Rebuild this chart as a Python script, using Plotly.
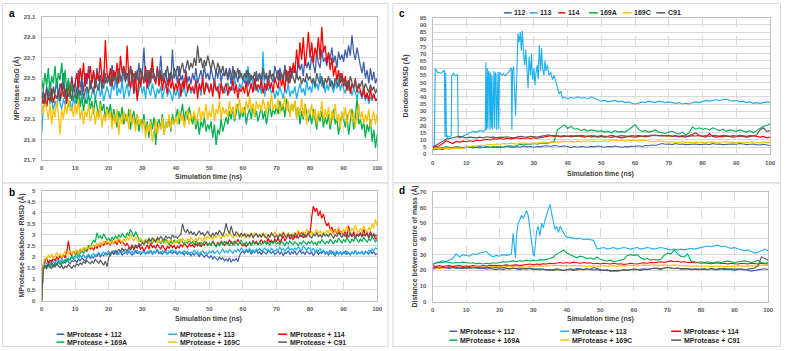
import plotly.graph_objects as go

W, H = 787, 351
def X(px): return px / W
def Y(py): return 1 - py / H

# ---------------- data ----------------
series_names = ["112", "113", "114", "169A", "169C", "C91"]
series_colors = ["#3F5FAE", "#1CB0EE", "#FF0000", "#00B050", "#FFC000", "#5A5A5A"]

time_ab = [i * 0.5 for i in range(201)]
time_cd = list(range(101))

# Panel a: MProtease RoG (Å)
rog_112 = [22.30,22.38,22.25,22.42,22.33,22.47,22.28,22.40,22.35,22.50,
22.32,22.45,22.38,22.55,22.30,22.42,22.48,22.36,22.52,22.40,
22.45,22.33,22.58,22.41,22.50,22.37,22.55,22.44,22.62,22.39,
22.48,22.56,22.42,22.60,22.47,22.53,22.38,22.58,22.45,22.50,
22.52,22.44,22.63,22.47,22.56,22.40,22.60,22.50,22.43,22.58,
22.46,22.55,22.42,22.62,22.50,22.45,22.57,22.48,22.65,22.44,
22.52,22.80,22.46,22.58,22.42,22.60,22.50,22.55,22.44,22.62,
22.48,22.72,22.50,22.45,22.58,22.43,22.55,22.47,22.78,22.50,
22.56,22.45,22.62,22.48,22.53,22.40,22.58,22.46,22.52,22.44,
22.55,22.48,22.60,22.45,22.52,22.58,22.47,22.63,22.50,22.55,
22.48,22.60,22.52,22.45,22.58,22.50,22.62,22.46,22.55,22.52,
22.60,22.48,22.56,22.44,22.62,22.50,22.54,22.46,22.58,22.52,
22.50,22.45,22.58,22.42,22.55,22.48,22.52,22.40,22.57,22.47,
22.53,22.45,22.60,22.48,22.55,22.42,22.58,22.50,22.46,22.62,
22.55,22.48,22.60,22.52,22.45,22.63,22.50,22.57,22.48,22.60,
22.55,22.62,22.50,22.68,22.58,22.64,22.52,22.70,22.60,22.66,
22.58,22.72,22.62,22.55,22.75,22.65,22.60,22.78,22.66,22.70,
22.62,22.75,22.68,22.80,22.65,22.72,22.60,22.76,22.68,22.73,
22.66,22.78,22.70,22.82,22.72,22.92,22.75,22.68,22.80,22.70,
22.62,22.55,22.66,22.50,22.58,22.45,22.60,22.48,22.56,22.45,
22.50]
rog_113 = [21.95,22.20,22.30,22.22,22.35,22.25,22.30,22.18,22.28,22.22,
22.32,22.25,22.20,22.30,22.24,22.35,22.22,22.28,22.18,22.30,
22.25,22.35,22.28,22.22,22.38,22.30,22.25,22.40,22.32,22.28,
22.35,22.42,22.30,22.38,22.45,22.32,22.40,22.28,22.36,22.42,
22.35,22.30,22.45,22.38,22.50,22.33,22.40,22.35,22.48,22.30,
22.38,22.45,22.32,22.40,22.52,22.35,22.42,22.30,22.38,22.45,
22.35,22.42,22.30,22.48,22.38,22.33,22.45,22.36,22.30,22.40,
22.35,22.42,22.30,22.38,22.45,22.32,22.40,22.35,22.28,22.38,
22.33,22.40,22.30,22.45,22.36,22.42,22.32,22.38,22.45,22.35,
22.40,22.35,22.50,22.38,22.42,22.33,22.48,22.36,22.40,22.45,
22.38,22.42,22.35,22.48,22.40,22.36,22.45,22.38,22.42,22.35,
22.40,22.46,22.35,22.42,22.38,22.50,22.40,22.36,22.45,22.40,
22.48,22.55,22.42,22.62,22.45,22.40,22.50,22.38,22.44,22.36,
22.42,22.35,22.76,22.32,22.45,22.38,22.42,22.35,22.40,22.30,
22.38,22.33,22.42,22.36,22.30,22.40,22.35,22.45,22.32,22.38,
22.35,22.42,22.30,22.38,22.45,22.36,22.40,22.33,22.48,22.38,
22.42,22.36,22.50,22.40,22.45,22.38,22.55,22.42,22.48,22.36,
22.44,22.38,22.50,22.42,22.36,22.46,22.40,22.52,22.38,22.45,
22.40,22.35,22.45,22.38,22.42,22.33,22.40,22.36,22.30,22.38,
22.35,22.30,22.38,22.28,22.35,22.25,22.32,22.28,22.34,22.30,
22.28]
rog_114 = [22.30,22.25,22.35,22.22,22.32,22.28,22.40,22.26,22.34,22.30,
22.38,22.28,22.45,22.32,22.40,22.25,22.42,22.35,22.48,22.38,
22.45,22.55,22.40,22.60,22.48,22.65,22.42,22.55,22.50,22.62,
22.45,22.58,22.40,22.55,22.48,22.70,22.50,22.45,22.87,22.55,
22.48,22.60,22.42,22.58,22.50,22.65,22.45,22.72,22.55,22.62,
22.48,22.82,22.50,22.40,22.58,22.35,22.55,22.28,22.50,22.42,
22.55,22.45,22.62,22.40,22.58,22.48,22.70,22.50,22.45,22.60,
22.42,22.55,22.38,22.50,22.45,22.35,22.52,22.40,22.48,22.37,
22.45,22.38,22.50,22.32,22.47,22.40,22.55,22.36,22.44,22.38,
22.42,22.35,22.48,22.30,22.45,22.38,22.50,22.34,22.46,22.40,
22.36,22.45,22.32,22.48,22.38,22.42,22.30,22.46,22.35,22.40,
22.45,22.33,22.42,22.38,22.48,22.35,22.44,22.30,22.40,22.37,
22.42,22.35,22.47,22.32,22.40,22.45,22.36,22.50,22.38,22.44,
22.40,22.48,22.35,22.45,22.38,22.52,22.40,22.46,22.36,22.50,
22.45,22.40,22.55,22.42,22.50,22.38,22.58,22.45,22.62,22.50,
22.65,22.55,22.78,22.60,22.85,22.68,22.90,22.62,22.75,22.95,
22.70,22.85,22.65,22.80,22.72,22.90,22.68,23.00,22.75,22.82,
22.65,22.75,22.58,22.70,22.52,22.62,22.48,22.58,22.45,22.55,
22.42,22.52,22.38,22.48,22.35,22.45,22.40,22.50,22.36,22.44,
22.38,22.32,22.42,22.30,22.36,22.28,22.40,22.30,22.35,22.28,
22.30]
rog_169A = [22.50,22.38,22.55,22.42,22.60,22.35,22.52,22.45,22.62,22.40,
22.55,22.48,22.65,22.42,22.58,22.35,22.50,22.30,22.45,22.28,
22.35,22.25,22.40,22.22,22.32,22.18,22.30,22.25,22.35,22.20,
22.28,22.15,22.32,22.22,22.12,22.28,22.18,22.25,22.10,22.22,
22.15,22.25,22.08,22.20,22.12,22.02,22.18,22.10,22.22,22.05,
22.15,22.08,22.20,22.00,22.12,22.18,22.05,22.15,21.98,22.10,
22.05,22.15,21.98,22.08,21.92,22.10,22.00,22.12,21.85,22.05,
22.10,22.00,22.15,21.95,22.08,22.02,22.12,21.98,22.15,22.05,
22.12,22.20,22.05,22.15,22.25,22.08,22.18,22.10,22.22,22.12,
22.05,22.15,22.00,22.10,21.95,22.08,22.02,22.12,21.98,22.05,
22.00,22.08,21.92,22.05,21.85,22.00,21.95,22.10,21.98,22.05,
22.12,22.05,22.18,22.10,22.22,22.08,22.15,22.25,22.10,22.18,
22.12,22.22,22.05,22.15,22.20,22.10,22.25,22.12,22.18,22.08,
22.15,22.22,22.10,22.18,22.05,22.15,22.25,22.12,22.20,22.15,
22.22,22.15,22.28,22.18,22.25,22.12,22.30,22.20,22.15,22.25,
22.18,22.28,22.12,22.22,22.05,22.18,22.10,22.25,22.15,22.08,
22.15,22.05,22.20,22.10,22.00,22.15,22.08,22.18,22.02,22.12,
22.05,22.15,22.00,22.10,22.20,22.05,22.12,21.95,22.08,22.15,
22.10,22.02,22.15,21.95,22.08,22.20,22.00,22.12,22.30,22.05,
22.10,22.00,22.08,21.92,22.05,21.98,22.10,21.88,22.00,21.82,
21.95]
rog_169C = [22.25,22.15,22.30,22.18,22.10,22.25,22.05,22.20,22.12,22.28,
22.15,21.95,22.20,22.10,22.25,22.15,22.30,22.18,22.22,22.12,
22.25,22.15,22.30,22.10,22.20,22.05,22.18,22.12,22.25,22.08,
22.15,22.22,22.05,22.18,22.10,22.25,22.02,22.15,22.08,22.20,
22.10,22.18,22.00,22.15,22.05,22.20,21.95,22.12,22.05,22.18,
22.08,22.15,22.00,22.20,22.05,22.12,21.98,22.15,22.05,22.10,
22.00,22.10,21.92,22.05,21.98,22.08,21.88,22.02,22.10,21.95,
22.05,22.00,22.12,21.95,22.08,22.02,22.15,22.00,22.10,22.05,
22.12,22.05,22.18,22.08,22.15,22.02,22.12,22.20,22.05,22.15,
22.10,22.18,22.05,22.15,22.22,22.08,22.18,22.12,22.25,22.10,
22.18,22.12,22.25,22.08,22.20,22.15,22.28,22.10,22.22,22.15,
22.20,22.12,22.28,22.15,22.22,22.10,22.25,22.18,22.30,22.15,
22.22,22.15,22.28,22.20,22.32,22.18,22.25,22.12,22.28,22.20,
22.25,22.18,22.30,22.22,22.15,22.28,22.20,22.35,22.18,22.25,
22.20,22.30,22.15,22.25,22.22,22.32,22.18,22.28,22.12,22.25,
22.18,22.28,22.10,22.22,22.15,22.30,22.12,22.25,22.05,22.20,
22.15,22.25,22.10,22.20,22.05,22.18,22.12,22.28,22.08,22.20,
22.12,22.22,22.05,22.18,22.10,22.25,22.08,22.15,22.00,22.18,
22.10,22.22,22.05,22.15,22.20,22.08,22.18,22.02,22.15,22.25,
22.10,22.18,22.05,22.15,22.08,22.20,22.02,22.12,22.18,22.05,
22.15]
rog_C91 = [22.28,22.35,22.25,22.40,22.30,22.36,22.27,22.42,22.33,22.30,
22.38,22.28,22.35,22.45,22.30,22.40,22.32,22.38,22.28,22.42,
22.35,22.30,22.40,22.33,22.45,22.30,22.38,22.42,22.35,22.48,
22.40,22.35,22.50,22.42,22.38,22.52,22.45,22.40,22.55,22.45,
22.50,22.42,22.55,22.48,22.52,22.45,22.58,22.47,22.53,22.60,
22.48,22.55,22.50,22.62,22.46,22.55,22.50,22.58,22.45,22.60,
22.52,22.48,22.58,22.50,22.55,22.45,22.60,22.52,22.48,22.56,
22.50,22.58,22.47,22.55,22.52,22.62,22.50,22.56,22.48,22.60,
22.55,22.62,22.52,22.58,22.65,22.55,22.60,22.68,22.58,22.65,
22.60,22.70,22.62,22.82,22.65,22.70,22.60,22.68,22.62,22.72,
22.65,22.58,22.68,22.62,22.55,22.65,22.60,22.55,22.62,22.52,
22.58,22.50,22.60,22.55,22.48,22.58,22.52,22.60,22.50,22.55,
22.48,22.55,22.50,22.58,22.45,22.53,22.50,22.56,22.47,22.52,
22.55,22.48,22.60,22.50,22.54,22.45,22.58,22.50,22.55,22.48,
22.52,22.58,22.48,22.55,22.50,22.60,22.47,22.53,22.45,22.56,
22.50,22.45,22.55,22.48,22.52,22.44,22.50,22.46,22.55,22.48,
22.52,22.45,22.50,22.42,22.55,22.48,22.45,22.52,22.40,22.50,
22.45,22.52,22.42,22.48,22.40,22.50,22.45,22.42,22.55,22.46,
22.50,22.42,22.48,22.40,22.52,22.45,22.40,22.48,22.38,22.45,
22.42,22.48,22.38,22.45,22.40,22.36,22.44,22.38,22.42,22.35,
22.40]

# Panel b: MProtease backbone RMSD (Å)
bb_112 = [0.00,1.55,1.62,1.58,1.70,1.65,1.75,1.60,1.72,1.68,
1.78,1.70,1.65,1.80,1.72,1.85,1.75,1.68,1.82,1.78,
1.85,1.75,1.90,1.82,1.95,1.88,1.80,1.95,2.05,1.92,
2.00,1.95,2.08,2.02,2.15,2.00,2.10,2.05,2.18,2.08,
2.15,2.05,2.20,2.12,2.25,2.10,2.18,2.22,2.08,2.15,
2.20,2.12,2.25,2.15,2.08,2.20,2.28,2.15,2.22,2.10,
2.18,2.25,2.12,2.20,2.15,2.28,2.10,2.22,2.18,2.30,
2.15,2.22,2.10,2.25,2.18,2.12,2.20,2.28,2.15,2.22,
2.18,2.10,2.25,2.15,2.20,2.08,2.22,2.12,2.18,2.05,
2.15,2.08,2.20,2.10,2.02,2.15,2.05,1.98,2.10,2.00,
1.95,2.05,1.90,2.00,1.92,1.85,1.98,1.88,1.95,1.82,
1.90,1.80,1.95,1.75,1.88,1.82,1.92,1.78,2.05,2.20,
2.25,2.15,2.30,2.20,2.28,2.12,2.25,2.18,2.32,2.15,
2.22,2.10,2.25,2.18,2.12,2.28,2.20,2.15,2.25,2.10,
2.18,2.25,2.12,2.22,2.05,2.20,2.15,2.28,2.10,2.22,
2.15,2.25,2.08,2.20,2.30,2.15,2.22,2.10,2.25,2.18,
2.12,2.22,2.05,2.18,2.25,2.10,2.20,2.15,2.28,2.12,
2.20,2.08,2.18,2.25,2.12,2.05,2.20,2.15,2.22,2.10,
2.18,2.25,2.12,2.20,2.08,2.22,2.15,2.28,2.12,2.20,
2.15,2.22,2.10,2.25,2.18,2.12,2.28,2.15,2.22,2.10,
2.15]
bb_113 = [0.00,1.60,1.75,1.68,1.80,1.72,1.85,1.78,1.70,1.82,
1.88,1.75,1.92,1.80,1.85,1.95,1.82,1.90,2.00,1.88,
1.95,2.02,1.90,2.05,1.98,2.10,1.95,2.05,2.12,2.00,
2.08,2.15,2.02,2.12,2.20,2.05,2.15,2.22,2.10,2.18,
2.25,2.12,2.20,2.28,2.15,2.22,2.10,2.25,2.18,2.30,
2.20,2.15,2.28,2.18,2.25,2.12,2.22,2.30,2.15,2.25,
2.18,2.28,2.12,2.25,2.20,2.32,2.15,2.25,2.18,2.35,
2.22,2.15,2.28,2.20,2.30,2.12,2.25,2.18,2.32,2.20,
2.28,2.15,2.25,2.20,2.12,2.28,2.18,2.25,2.10,2.22,
2.18,2.30,2.15,2.25,2.12,2.22,2.28,2.15,2.20,2.12,
2.25,2.18,2.30,2.15,2.22,2.28,2.12,2.25,2.35,2.20,
2.28,2.18,2.32,2.25,2.15,2.30,2.22,2.35,2.25,2.40,
2.30,2.22,2.35,2.28,2.38,2.25,2.32,2.20,2.35,2.28,
2.38,2.25,2.32,2.40,2.28,2.35,2.22,2.38,2.30,2.25,
2.35,2.28,2.42,2.30,2.38,2.25,2.35,2.45,2.30,2.38,
2.28,2.40,2.32,2.45,2.35,2.28,2.50,2.38,2.30,2.42,
2.35,2.28,2.40,2.22,2.32,2.25,2.38,2.20,2.30,2.15,
2.25,2.18,2.30,2.12,2.22,2.15,2.28,2.10,2.20,2.15,
2.22,2.12,2.25,2.18,2.10,2.22,2.15,2.28,2.12,2.20,
2.15,2.25,2.10,2.22,2.18,2.30,2.20,2.35,2.28,2.40,
2.35]
bb_114 = [0.00,1.65,1.80,1.95,1.72,1.85,1.78,1.92,1.82,1.98,
1.88,2.05,1.92,2.10,1.95,2.20,2.72,2.15,2.05,2.25,
2.12,2.28,2.18,2.35,2.22,2.40,2.30,2.25,2.45,2.35,
2.42,2.30,2.50,2.38,2.55,2.45,2.62,2.50,2.70,2.58,
2.65,2.52,2.75,2.60,2.68,2.55,2.80,2.62,2.70,2.58,
2.50,2.62,2.45,2.38,2.55,2.30,2.48,2.40,2.52,2.35,
2.45,2.25,2.40,2.55,2.35,2.62,2.42,2.50,2.38,2.58,
2.45,2.35,2.52,2.40,2.28,2.48,2.38,2.55,2.42,2.50,
2.35,2.48,2.40,2.55,2.45,2.62,2.50,2.42,2.58,2.48,
2.55,2.42,2.60,2.50,2.65,2.45,2.58,2.52,2.68,2.55,
2.62,2.50,2.72,2.58,2.48,2.65,2.55,2.70,2.60,2.52,
2.68,2.58,2.75,2.62,2.55,2.72,2.60,2.80,2.65,2.58,
2.50,2.62,2.45,2.58,2.68,2.52,2.75,2.60,2.70,2.55,
2.65,2.78,2.60,2.72,2.58,2.85,2.65,2.75,2.62,2.80,
2.70,2.85,2.65,2.78,2.95,2.72,2.85,3.05,2.80,2.90,
2.78,2.95,2.85,3.20,2.90,3.10,2.85,3.00,2.92,3.15,
3.05,3.80,4.30,4.05,4.20,3.85,4.10,3.75,3.95,3.60,
3.40,3.55,3.20,3.35,3.10,3.25,3.05,3.30,3.00,3.15,
2.95,3.20,2.85,3.40,3.00,2.90,3.15,2.85,3.05,2.95,
3.10,2.90,3.25,2.95,3.05,2.85,3.15,2.92,3.00,2.80,
2.90]
bb_169A = [0.00,1.40,1.55,1.45,1.60,1.50,1.65,1.55,1.70,1.62,
1.75,1.65,1.80,1.72,1.85,1.78,1.92,1.85,2.00,1.95,
2.05,2.15,2.02,2.20,2.30,2.15,2.40,2.28,2.50,2.45,
2.60,2.75,2.65,3.10,2.85,2.95,2.80,3.05,2.90,2.75,
2.85,2.70,2.90,2.78,2.95,2.82,3.00,2.88,3.05,2.92,
2.85,3.10,2.95,3.25,3.05,2.90,3.15,2.95,2.80,2.70,
2.75,2.62,2.80,2.68,2.85,2.72,2.60,2.78,2.65,2.82,
2.70,2.58,2.75,2.62,2.80,2.68,2.55,2.72,2.60,2.78,
2.65,2.72,2.58,2.80,2.65,2.55,2.70,2.62,2.78,2.60,
2.68,2.55,2.72,2.60,2.48,2.65,2.55,2.70,2.58,2.50,
2.62,2.52,2.68,2.55,2.45,2.60,2.50,2.65,2.55,2.70,
2.58,2.65,2.50,2.72,2.60,2.55,2.68,2.52,2.62,2.75,
2.60,2.52,2.68,2.55,2.65,2.50,2.72,2.58,2.62,2.55,
2.68,2.55,2.62,2.70,2.58,2.65,2.52,2.68,2.60,2.72,
2.58,2.65,2.55,2.70,2.62,2.50,2.68,2.58,2.72,2.60,
2.55,2.68,2.60,2.52,2.65,2.58,2.72,2.62,2.55,2.68,
2.60,2.72,2.58,2.65,2.52,2.70,2.62,2.78,2.65,2.58,
2.70,2.62,2.80,2.68,2.58,2.75,2.65,2.85,2.70,2.62,
2.78,2.68,2.85,2.72,2.62,2.80,2.70,2.90,2.75,2.65,
2.80,2.70,2.88,2.75,2.65,2.82,2.72,2.92,2.78,2.68,
2.80]
bb_169C = [0.00,1.70,1.95,1.85,2.10,1.95,2.15,1.90,2.05,2.20,
2.00,2.15,1.95,2.10,2.25,2.05,2.18,2.30,2.10,2.22,
2.15,2.30,2.20,2.38,2.25,2.42,2.30,2.45,2.35,2.50,
2.40,2.55,2.45,2.60,2.50,2.65,2.55,2.70,2.60,2.75,
2.65,2.58,2.72,2.62,2.78,2.68,2.85,2.70,2.62,2.80,
2.70,2.88,2.75,3.05,2.82,2.72,2.90,2.78,2.68,2.85,
2.75,2.62,2.80,2.70,2.58,2.78,2.68,2.85,2.72,2.62,
2.78,2.65,2.82,2.70,2.60,2.75,2.65,2.80,2.68,2.58,
2.72,2.62,2.78,2.68,2.85,2.72,2.65,2.80,2.70,2.88,
2.75,2.68,2.85,2.72,2.90,2.78,2.70,2.88,2.80,2.95,
2.82,2.92,2.78,2.98,2.85,3.05,2.90,2.82,3.00,2.88,
3.05,2.92,3.10,2.95,2.85,3.02,2.90,3.08,2.95,2.88,
3.00,2.90,3.05,2.95,2.85,3.02,2.92,3.10,2.98,2.88,
3.02,2.95,3.10,2.90,3.05,2.98,2.88,3.05,2.95,3.12,
3.00,2.92,3.08,2.95,3.15,3.02,2.90,3.10,2.98,3.05,
2.95,3.12,3.00,3.20,3.05,2.95,3.15,3.02,3.25,3.08,
3.00,3.15,2.98,3.10,3.25,3.05,3.18,2.98,3.12,3.05,
3.20,3.08,3.30,3.12,3.00,3.22,3.10,3.35,3.15,3.05,
3.25,3.12,3.40,3.18,3.08,3.30,3.15,3.45,3.20,3.10,
3.30,3.15,3.40,3.22,3.10,3.35,3.20,3.50,3.30,3.70,
3.40]
bb_C91 = [0.00,1.45,1.60,1.52,1.65,1.55,1.48,1.62,1.55,1.68,
1.58,1.50,1.62,1.45,1.58,1.52,1.65,1.55,1.48,1.60,
1.55,1.68,1.60,1.72,1.65,1.78,1.70,1.82,1.75,1.68,
1.80,1.72,1.88,1.78,1.70,1.85,1.75,1.62,1.80,1.55,
1.95,2.15,2.25,2.10,2.30,2.20,2.35,2.22,2.40,2.28,
2.35,2.25,2.42,2.30,2.48,2.38,2.55,2.42,2.60,2.50,
2.65,2.55,2.72,2.62,2.80,2.68,2.85,2.75,2.70,2.88,
2.78,2.92,2.82,2.75,2.95,2.85,2.90,2.80,3.00,2.88,
2.92,2.85,2.95,3.00,3.50,3.20,3.10,3.25,3.05,3.15,
3.00,3.12,2.95,3.08,3.18,3.02,3.10,2.95,3.05,3.15,
3.00,2.92,3.08,2.95,3.12,3.00,3.20,3.05,2.95,3.15,
3.52,3.20,3.05,3.40,3.10,2.95,3.15,3.02,2.92,3.08,
2.95,3.05,2.88,3.00,2.92,3.08,2.85,2.98,3.05,2.90,
3.00,2.88,3.05,2.92,2.85,3.00,2.90,3.08,2.95,2.88,
2.98,2.85,3.02,2.92,3.10,2.95,2.88,3.05,2.92,3.00,
2.90,3.05,2.95,2.85,3.00,2.92,3.08,2.88,2.98,3.05,
2.92,2.85,3.02,2.95,3.10,2.90,3.00,2.88,3.05,2.95,
3.02,2.90,3.08,2.95,2.85,3.00,2.92,3.10,2.98,2.88,
3.00,2.92,3.05,2.88,3.10,2.95,3.00,2.85,3.02,2.92,
3.05,2.90,3.00,2.95,3.10,2.88,3.02,2.92,3.05,2.95,
3.00]

# Panel c: Dendron RMSD (Å)
dr_112 = [3.0,3.5,4.0,3.2,4.5,3.8,4.2,4.8,4.0,4.5,
4.8,5.2,4.5,5.0,5.5,4.8,5.2,5.0,5.5,4.8,
5.2,5.0,5.5,5.2,4.8,5.5,5.0,5.8,5.2,5.5,
5.0,5.5,5.2,5.8,6.0,5.5,6.2,5.8,5.5,6.0,
5.2,4.8,5.5,5.0,5.5,5.2,5.0,5.5,5.2,5.8,
5.5,5.0,5.5,5.2,5.8,5.5,5.0,5.5,5.2,5.8,
5.5,6.0,5.5,6.2,6.0,6.5,6.2,6.8,7.5,7.0,
7.2,6.8,7.5,7.0,7.2,6.8,7.0,7.5,7.2,6.8,
7.0,7.2,6.8,7.5,7.0,7.2,6.8,7.0,7.5,7.2,
7.0,7.5,7.2,6.8,7.0,7.2,6.8,6.5,7.0,6.5,
6.2]
dr_113_time = [0,0.5,0.8,1.5,2.5,3.0,3.5,3.7,3.9,4.1,4.3,4.5,5.0,5.5,5.7,6.2,6.8,7.4,7.6,8.0,
9,10,11,12,13,14,15,15.6,15.8,16.0,16.2,16.4,16.6,16.8,17.0,17.2,17.4,17.6,17.8,18.0,
18.2,18.4,18.6,18.8,19.0,19.2,19.4,19.6,19.8,20.5,21.0,21.5,22.0,22.5,23.0,23.3,23.5,23.7,24.0,24.3,
24.6,25.0,25.3,25.6,26.0,26.3,26.6,27.0,27.3,27.6,28.0,28.3,28.6,29.0,29.3,29.6,30.0,30.3,30.6,31.0,
31.3,31.6,32.0,32.3,32.6,33.0,33.3,33.6,34.0,34.5,35.0,35.5,36.0,36.5,37.0,37.5,38.0,38.5,39.0,
40,41,42,43,44,45,46,47,48,49,50,51,52,53,54,55,56,57,58,59,60,61,62,63,64,65,66,67,68,69,
70,71,72,73,74,75,76,77,78,79,80,81,82,83,84,85,86,87,88,89,90,91,92,93,94,95,96,97,98,99,100]
dr_113 = [5.0,6.0,59.5,57.0,56.5,57.5,58.5,12.0,57.0,12.5,11.0,13.0,12.0,13.0,55.0,56.5,54.5,55.5,12.0,11.5,
12.5,13.5,14.5,16.0,15.5,16.5,16.0,17.0,64.0,17.0,60.0,18.0,58.0,56.0,17.0,57.0,18.5,55.0,17.5,56.0,
58.0,18.0,57.0,55.5,17.0,56.5,57.5,17.5,57.0,55.0,56.0,54.5,55.5,57.0,59.0,60.5,17.0,58.0,61.0,40.0,
27.0,60.0,84.0,78.0,85.0,72.0,86.0,68.0,62.0,73.0,58.0,46.0,68.0,55.0,70.0,52.0,60.0,48.0,56.0,62.0,
52.0,76.0,58.0,74.0,60.0,55.0,65.0,58.0,62.0,55.0,57.0,52.0,55.0,50.0,47.0,42.0,44.0,39.0,40.0,
38.5,39.5,39.0,40.0,39.0,39.5,38.5,40.0,39.0,37.5,37.0,37.5,36.5,37.0,37.5,36.5,37.0,36.0,36.5,35.5,
35.0,35.5,36.5,36.0,37.0,36.5,36.0,37.0,36.5,36.0,36.5,36.0,35.5,36.0,35.0,35.5,35.0,36.0,36.5,36.0,
37.0,37.5,37.0,37.5,38.0,37.5,38.0,38.5,37.5,37.0,37.5,36.5,37.0,36.0,36.5,35.5,36.0,35.5,36.0,36.5,36.0]
dr_114 = [5.0,5.5,6.0,7.5,9.5,8.5,7.5,9.0,8.5,9.2,
8.8,9.5,9.0,9.8,9.5,10.0,10.5,10.0,10.8,10.5,
11.0,10.5,11.2,10.8,11.0,11.5,11.0,11.2,11.5,11.0,
11.5,11.2,11.8,12.0,12.5,13.0,12.5,12.8,12.2,12.5,
12.8,12.2,12.5,13.0,12.5,12.0,12.8,12.2,12.5,12.0,
12.5,12.0,12.2,11.8,12.5,12.0,11.5,12.0,12.5,12.2,
12.0,12.5,12.8,12.2,12.5,13.0,13.5,13.0,13.2,12.8,
13.0,12.5,12.8,12.2,12.5,12.0,13.0,13.5,15.0,13.0,
12.5,12.0,14.5,12.5,12.0,12.5,12.2,12.8,12.5,12.0,
12.2,12.8,12.5,12.0,12.5,13.0,12.5,12.0,12.5,11.5,
12.0]
dr_169A = [4.0,4.5,5.0,4.5,5.5,5.0,4.8,5.5,5.0,4.8,
5.2,4.8,5.5,5.0,4.5,5.0,5.5,5.0,4.8,5.5,
5.5,5.0,5.8,6.0,5.5,6.2,7.0,6.5,7.2,7.0,
7.5,7.0,7.8,8.0,7.5,8.5,9.0,17.0,18.5,20.5,
18.0,19.5,17.5,18.0,16.5,17.5,16.0,17.0,16.5,16.0,
16.5,15.5,16.0,15.0,16.5,15.5,16.0,15.5,17.0,18.5,
20.5,17.5,16.0,16.5,15.5,16.0,17.0,15.5,15.0,14.5,
15.5,16.0,15.0,14.0,15.5,13.5,15.0,19.0,17.5,18.5,
17.5,18.0,17.0,18.5,17.5,16.5,17.5,16.0,17.0,16.5,
16.0,17.0,16.5,15.5,16.5,15.0,16.5,18.0,19.5,20.0,
21.5]
dr_169C = [3.5,4.0,4.5,4.0,4.5,3.8,4.2,4.5,4.0,4.2,
5.0,5.5,6.0,5.8,6.5,6.2,6.8,7.0,6.5,7.2,
7.0,7.5,7.2,7.8,7.5,7.2,7.8,8.0,7.5,7.8,
8.0,7.8,8.2,8.5,8.0,8.2,8.5,8.8,8.5,9.0,
8.8,9.0,8.5,9.2,8.8,9.0,9.5,9.0,9.2,8.8,
9.2,9.5,9.0,9.8,10.0,9.5,9.8,9.2,9.5,9.8,
9.5,9.2,9.8,9.5,9.0,9.2,8.8,9.5,9.0,8.8,
8.5,8.8,8.2,8.5,8.8,8.2,8.5,8.0,8.5,8.2,
8.5,8.2,8.8,8.5,8.0,8.2,8.5,8.8,8.2,8.5,
8.2,8.5,8.0,8.2,8.5,8.8,8.2,8.0,8.5,8.2,
8.0]
dr_C91 = [5.0,6.5,8.0,9.5,10.5,11.0,11.5,12.0,12.5,12.0,
11.5,12.0,11.8,11.5,12.0,11.5,12.2,11.8,12.0,11.5,
12.0,11.8,12.2,12.0,11.5,12.0,12.5,12.2,12.0,12.5,
12.2,12.0,12.5,13.0,13.5,13.2,13.0,12.5,12.8,13.0,
12.5,13.0,12.8,12.5,13.2,13.0,12.5,13.0,12.8,12.5,
13.0,12.5,12.8,13.2,12.8,12.5,13.0,12.8,12.5,13.0,
12.8,13.2,12.5,13.0,12.8,13.5,13.0,13.2,12.8,13.0,
13.2,12.8,13.0,12.5,13.0,12.8,12.5,13.0,12.8,13.2,
12.8,13.0,12.5,13.2,13.0,12.8,13.2,13.0,12.5,13.0,
12.8,13.2,13.0,12.5,13.0,12.8,13.5,17.0,18.5,16.0,
16.5]

# Panel d: Distance between centre of mass (Å)
com_112 = [21.0,21.5,21.0,22.0,21.5,21.0,21.8,21.2,21.5,21.0,
21.5,21.0,21.8,21.2,21.0,21.5,20.8,21.2,21.0,20.5,
21.0,20.5,21.2,20.8,21.5,21.0,20.5,21.0,20.8,21.2,
20.5,21.0,20.2,20.8,20.5,20.0,20.5,21.0,20.5,20.0,
20.5,21.0,20.5,21.2,20.8,20.5,21.0,20.5,21.8,21.0,
20.5,20.0,20.5,19.5,20.0,19.5,20.0,20.5,20.0,20.5,
21.0,20.5,20.8,21.0,20.5,21.0,21.5,21.0,20.5,21.5,
22.0,21.5,21.0,21.5,20.8,21.2,21.0,20.5,21.0,20.5,
20.8,21.0,20.5,21.2,20.8,20.5,21.0,20.5,21.0,20.5,
20.0,20.5,21.0,20.5,20.0,19.5,20.0,20.5,20.8,21.0,
20.5]
com_113_time = [0,1,2,3,4,5,6,7,8,9,10,11,12,13,14,15,16,17,18,19,20,21,22,23,23.5,
24,24.3,24.7,25,25.5,26,26.5,27,27.5,28,28.5,29,29.5,30,30.3,30.7,31,31.5,32,32.5,33,33.5,
34,34.5,35,35.5,36,36.5,37,37.5,38,38.5,39,39.5,40,
41,42,43,44,45,46,47,48,49,50,51,52,53,54,55,56,57,58,59,60,61,62,63,64,65,66,67,68,69,70,
71,72,73,74,75,76,77,78,79,80,81,82,83,84,85,86,87,88,89,90,91,92,93,94,95,96,97,98,99,100]
com_113 = [23.5,25.0,25.5,26.0,25.5,26.5,27.5,30.5,28.5,30.0,29.5,29.0,30.5,30.0,31.0,31.5,32.0,30.0,28.5,29.5,
29.0,30.0,29.5,30.0,30.5,43.5,38.0,28.0,42.0,50.0,52.0,55.0,53.0,56.0,58.0,55.0,46.0,40.0,30.0,29.0,
38.0,45.0,48.0,42.0,50.0,47.0,52.0,55.0,58.0,62.0,56.0,50.0,46.0,48.0,44.0,48.0,46.0,43.0,42.0,41.0,
41.0,40.5,40.0,40.5,39.5,40.0,39.5,39.0,33.5,34.0,34.5,33.5,34.0,34.5,33.5,34.0,34.5,34.0,33.5,34.0,
34.5,33.5,34.0,34.5,34.0,33.5,34.0,34.5,34.0,33.5,33.0,33.5,33.0,33.5,33.0,33.5,34.0,33.5,34.0,34.5,
35.0,35.5,35.0,35.5,36.0,35.0,35.5,34.5,34.0,34.5,33.5,33.0,32.5,33.0,32.0,31.0,31.5,32.5,33.5,32.5]
com_114 = [23.0,22.5,23.0,22.5,22.8,23.0,22.5,22.8,23.0,22.5,
22.8,22.5,23.0,22.8,22.5,23.0,22.8,23.2,23.0,22.8,
23.0,23.2,23.5,23.0,23.2,23.5,23.0,23.5,23.8,24.0,
23.5,24.0,23.8,24.2,24.0,24.5,24.2,24.8,25.0,24.5,
25.0,24.5,25.2,24.8,24.5,25.0,24.5,24.8,24.2,24.5,
24.0,24.5,24.2,24.0,24.5,24.0,24.2,23.8,24.0,24.5,
24.2,24.0,24.5,24.8,24.5,25.0,24.8,25.2,25.5,25.0,
25.5,26.0,25.5,25.8,25.2,25.5,25.0,25.2,24.8,25.0,
24.5,24.8,24.5,24.2,24.5,24.8,24.2,24.5,24.0,24.5,
24.2,24.0,24.5,24.2,24.0,24.5,24.2,24.0,24.5,24.2,
24.0]
com_169A = [24.0,24.5,25.0,24.8,25.5,25.0,24.5,25.0,24.8,25.2,
25.0,24.5,24.8,24.2,24.5,24.0,24.5,24.2,24.8,24.5,
25.0,25.5,25.2,25.8,26.0,25.5,26.2,25.8,26.5,26.0,
26.5,26.0,26.8,26.5,27.0,27.5,28.5,30.5,31.5,33.0,
31.0,30.0,29.5,28.0,29.0,28.5,27.5,28.0,27.0,28.5,
27.0,26.5,26.0,26.5,25.5,26.0,26.5,27.0,29.5,30.0,
29.5,30.0,28.0,27.0,27.5,26.5,27.0,26.5,27.0,29.5,
31.0,30.5,33.0,30.5,29.0,28.5,30.5,26.0,25.5,25.0,
25.5,25.0,25.5,24.8,25.0,25.5,25.0,25.5,26.0,25.5,
25.0,25.5,25.8,26.0,25.5,25.0,25.5,26.5,25.0,24.5,
25.0]
com_169C = [20.5,21.0,21.5,21.0,21.5,22.0,21.5,22.0,21.8,22.0,
22.0,21.5,22.0,22.5,22.0,22.2,22.5,22.0,22.5,22.2,
22.5,22.0,22.5,22.8,22.5,22.0,22.5,22.2,22.0,22.5,
22.5,22.8,23.0,22.5,23.0,22.8,23.2,23.0,22.8,23.0,
23.0,22.8,23.2,23.0,22.8,23.0,22.5,22.8,23.0,22.5,
22.8,23.0,22.5,22.8,23.0,22.5,22.8,23.0,22.8,23.2,
23.0,22.8,23.2,23.5,23.0,23.2,23.5,23.0,23.2,23.5,
23.2,23.0,23.5,23.2,23.0,22.8,23.0,22.5,22.8,23.0,
22.5,22.8,22.5,22.2,22.5,22.8,22.5,22.2,22.5,22.8,
22.5,22.8,23.0,22.5,22.8,23.0,22.8,23.0,23.2,23.5,
23.0]
com_C91 = [21.5,22.0,21.5,22.0,21.8,22.2,21.8,22.0,21.5,22.0,
21.8,22.0,21.5,22.0,21.8,21.5,22.0,21.8,21.5,21.8,
21.5,21.8,21.5,21.2,21.5,21.0,21.5,21.2,21.0,21.5,
21.0,20.5,21.0,20.5,20.2,20.5,20.0,20.5,20.2,19.8,
20.2,20.5,20.0,20.5,20.8,20.5,21.0,20.5,20.2,20.5,
20.0,20.2,19.8,20.0,19.5,20.0,19.8,20.2,20.0,20.5,
20.2,20.5,20.0,20.5,20.8,21.0,21.2,21.5,21.0,21.5,
21.8,21.5,21.2,21.5,21.0,20.8,21.2,21.0,20.5,20.8,
20.5,20.8,20.5,21.0,20.5,20.8,21.0,21.2,20.5,21.0,
20.8,21.0,20.5,20.2,20.8,21.0,21.5,23.0,28.5,27.5,
26.5]

# --------------- figure ---------------
fig = go.Figure()

panels = [
    ("x", "y", 1.3, [(time_ab, rog_112), (time_ab, rog_113), (time_ab, rog_114),
                     (time_ab, rog_169A), (time_ab, rog_169C), (time_ab, rog_C91)]),
    ("x2", "y2", 1.2, [(time_ab, bb_112), (time_ab, bb_113), (time_ab, bb_114),
                       (time_ab, bb_169A), (time_ab, bb_169C), (time_ab, bb_C91)]),
    ("x3", "y3", 1.1, [(time_cd, dr_112), (dr_113_time, dr_113), (time_cd, dr_114),
                       (time_cd, dr_169A), (time_cd, dr_169C), (time_cd, dr_C91)]),
    ("x4", "y4", 1.1, [(time_cd, com_112), (com_113_time, com_113), (time_cd, com_114),
                       (time_cd, com_169A), (time_cd, com_169C), (time_cd, com_C91)]),
]
for xa, ya, lw, data in panels:
    for (t, v), name, col in zip(data, series_names, series_colors):
        fig.add_trace(go.Scatter(x=t, y=v, mode="lines", name=name, xaxis=xa, yaxis=ya,
                                 line=dict(color=col, width=lw), showlegend=False))

FONT = "Liberation Sans"
tickfont = dict(family=FONT, size=6, color="#595959", weight="bold")
GRID = "#d9d9d9"

def xax(domain, anchor):
    return dict(domain=domain, anchor=anchor, range=[0, 100], tick0=0, dtick=10,
                showgrid=True, gridcolor=GRID, griddash="dash", gridwidth=1,
                showline=True, linecolor="#bfbfbf", linewidth=1, mirror=True,
                zeroline=False, ticks="", tickfont=tickfont, ticklabelstandoff=2)

def yax(domain, anchor, rng, dtick):
    return dict(domain=domain, anchor=anchor, range=rng, tick0=rng[0], dtick=dtick,
                showgrid=True, gridcolor=GRID, gridwidth=1,
                showline=True, linecolor="#bfbfbf", linewidth=1, mirror=True,
                zeroline=False, ticks="", tickfont=tickfont, ticklabelstandoff=4)

fig.update_layout(
    width=W, height=H, margin=dict(l=0, r=0, t=0, b=0),
    paper_bgcolor="white", plot_bgcolor="white", showlegend=False,
    xaxis=xax([X(40), X(379)], "y"),
    yaxis=yax([Y(160), Y(14)], "x", [21.7, 23.1], 0.2),
    xaxis2=xax([X(40), X(379)], "y2"),
    yaxis2=yax([Y(303), Y(191)], "x2", [0, 5], 0.5),
    xaxis3=xax([X(435), X(776)], "y3"),
    yaxis3=yax([Y(154), Y(15)], "x3", [0, 95], 5),
    xaxis4=xax([X(435), X(774)], "y4"),
    yaxis4=yax([Y(304), Y(192)], "x4", [0, 70], 10),
)

shapes = []
# panel frames
for (x0, y0, x1, y1) in [(0.5, 0.5, 390, 183), (0.5, 183, 390, 349.5),
                         (395, 0.5, 786.5, 183), (395, 183, 786.5, 349.5)]:
    shapes.append(dict(type="rect", xref="paper", yref="paper", x0=X(x0), x1=X(x1),
                       y0=Y(y1), y1=Y(y0), line=dict(color="#d9d9d9", width=1)))

annotations = []
titlefont = dict(family=FONT, size=7, color="#404040", weight="bold")
def ann(text, px, py, angle=0, font=titlefont, xanchor="center"):
    annotations.append(dict(text=text, x=X(px), y=Y(py), xref="paper", yref="paper",
                            showarrow=False, textangle=angle, font=font,
                            xanchor=xanchor, yanchor="middle"))

# axis titles
ann("Simulation time (ns)", 209, 177)
ann("Simulation time (ns)", 209, 322)
ann("Simulation time (ns)", 605, 174)
ann("Simulation time (ns)", 605, 322)
ann("MProtease RoG (Å)", 15, 87, -90)
ann("MProtease backbone RMSD (Å)", 20, 247, -90)
ann("Dendron RMSD (Å)", 408, 84, -90)
ann("Distance between centre of mass (Å)", 417, 248, -90)

# panel letters
letterfont = dict(family=FONT, size=10, color="black", weight="bold")
ann("a", 10, 11, font=letterfont)
ann("b", 10, 193, font=letterfont)
ann("c", 404, 11, font=letterfont)
ann("d", 404, 191, font=letterfont)

legfont = dict(family=FONT, size=7, color="#262626", weight="bold")
def legend_item(label, col, lx0, lx1, py):
    shapes.append(dict(type="line", xref="paper", yref="paper", x0=X(lx0), x1=X(lx1),
                       y0=Y(py), y1=Y(py), line=dict(color=col, width=1.5)))
    ann(label, lx1 + 0.5, py, font=legfont, xanchor="left")

# panel c legend (top)
c_leg = [(507, 515), (533, 541), (562, 569), (593, 602), (627, 636), (661, 670)]
for (a0, a1), name, col in zip(c_leg, series_names, series_colors):
    legend_item(name, col, a0, a1, 10)

# panel b and d legends (3 columns x 2 rows)
b_cols = [(55, 63), (168, 177), (279, 288)]
b_rows = [337, 345]
d_cols = [(452, 460), (564, 573), (676, 686)]
d_rows = [334, 343]
for i, (name, col) in enumerate(zip(series_names, series_colors)):
    r, c = divmod(i, 3)
    legend_item("MProtease + " + name, col, b_cols[c][0], b_cols[c][1], b_rows[r])
    legend_item("MProtease + " + name, col, d_cols[c][0], d_cols[c][1], d_rows[r])

fig.update_layout(shapes=shapes, annotations=annotations)
fig.write_html("out.html")
